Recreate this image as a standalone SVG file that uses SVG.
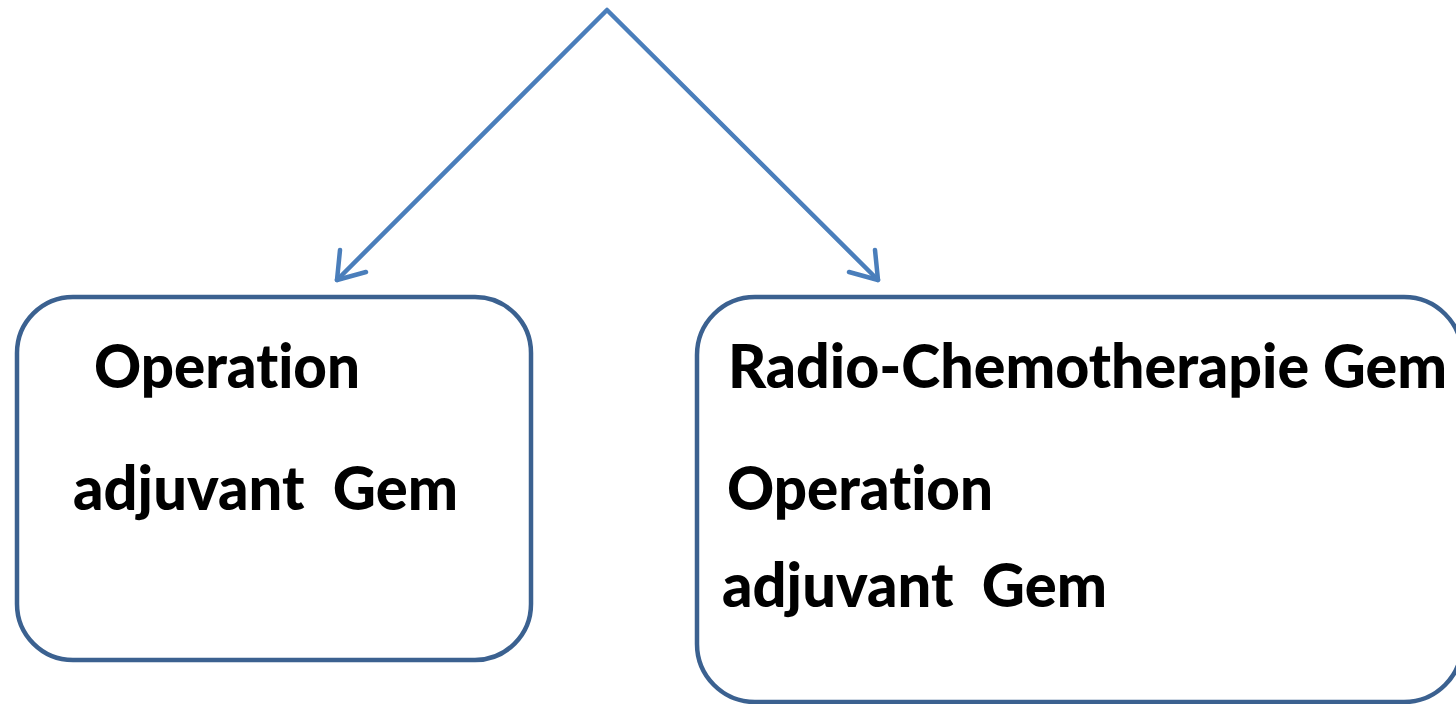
<svg xmlns="http://www.w3.org/2000/svg" width="1456" height="704" viewBox="0 0 1456 704">
  <style>
    .box { fill: #ffffff; stroke: #3B6190; stroke-width: 4.5; }
    .conn { stroke: #4A7EBB; stroke-width: 4.5; fill: none; stroke-linecap: round; stroke-linejoin: round; }
    .lbl { font-family: "Lato", "Open Sans", "Liberation Sans", sans-serif; font-weight: 900; font-size: 60px; fill: #000000; white-space: pre; font-variant-ligatures: none; font-feature-settings: "liga" 0, "clig" 0; }
  </style>
  <rect width="1456" height="704" fill="#ffffff"/>

  <!-- branching arrows -->
  <g id="connectors">
    <polyline class="conn" points="337,280 607,10 878,280"/>
    <polyline class="conn" points="340,250 337,280 366,272"/>
    <polyline class="conn" points="849,272 878,280 875,250"/>
  </g>

  <!-- left branch -->
  <g id="node-operation">
    <rect class="box" x="17" y="297" width="514" height="363" rx="56" ry="56"/>
    <text class="lbl" x="94" y="388" textLength="266" lengthAdjust="spacingAndGlyphs">Operation</text>
    <text class="lbl" x="73" y="510" textLength="385" lengthAdjust="spacingAndGlyphs">adjuvant  Gem</text>
  </g>

  <!-- right branch -->
  <g id="node-radiochemo">
    <rect class="box" x="697" y="297" width="765" height="405" rx="58" ry="58"/>
    <text class="lbl" x="728" y="388" textLength="719" lengthAdjust="spacingAndGlyphs">Radio-Chemotherapie Gem</text>
    <text class="lbl" x="727" y="510" textLength="266" lengthAdjust="spacingAndGlyphs">Operation</text>
    <text class="lbl" x="722" y="607" textLength="385" lengthAdjust="spacingAndGlyphs">adjuvant  Gem</text>
  </g>
</svg>
